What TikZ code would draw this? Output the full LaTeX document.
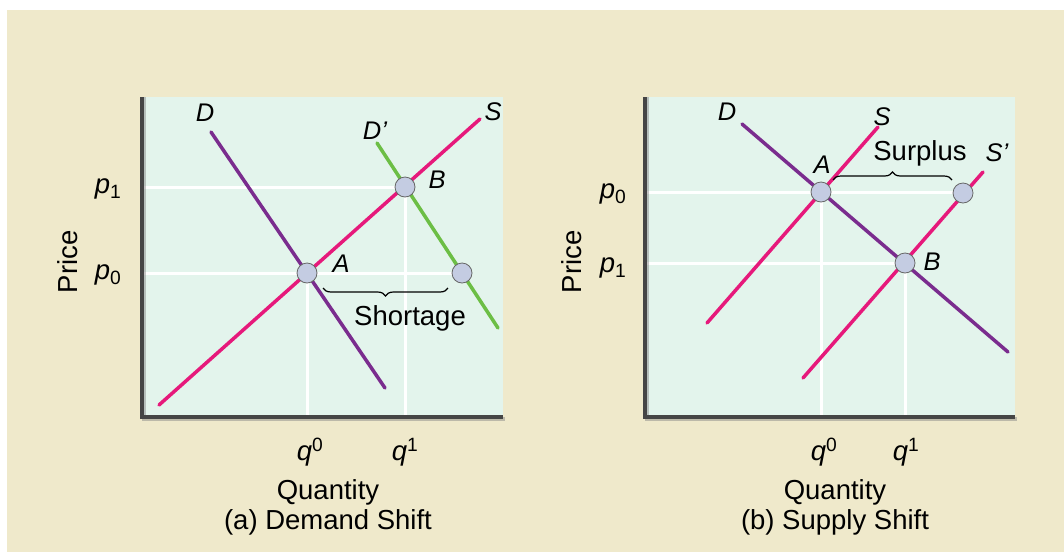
\documentclass[tikz,border=0pt]{standalone}
\usepackage{fontspec}
\setmainfont{Liberation Sans}
\usetikzlibrary{decorations.pathreplacing}
\definecolor{bgtan}{HTML}{EFE9CB}
\definecolor{plotmint}{HTML}{E3F4EC}
\definecolor{supplypink}{HTML}{E6197B}
\definecolor{demandpurple}{HTML}{7A2C8E}
\definecolor{shiftgreen}{HTML}{6CBE45}
\definecolor{dotblue}{HTML}{C4CCE2}
\definecolor{axisgray}{HTML}{454545}

\begin{document}
\begin{tikzpicture}[x=1pt, y=-1pt,
  txt/.style={font=\fontsize{27.5}{32}\selectfont, inner sep=0pt},
  curvelbl/.style={font=\fontsize{25.5}{30}\selectfont\itshape, inner sep=0pt},
  grid/.style={white, line width=3pt},
  curve/.style={line width=3.5pt, line cap=round},
  axis/.style={axisgray, line width=3.2pt},
  axshadow/.style={gray, opacity=0.45, line width=4pt},
  eqdot/.style={circle, fill=dotblue, draw=gray!80!black, line width=0.8pt, minimum size=20pt, inner sep=0pt},
  gapbrace/.style={decorate, decoration={brace, amplitude=8pt}, line width=1.2pt}]
\useasboundingbox (0,0) rectangle (1064,555);
\fill[white] (0,0) rectangle (1064,555);
\fill[bgtan] (7,10) rectangle (1064,552);

\fill[plotmint] (142,97) rectangle (503,417);
\draw[grid] (142,187) -- (405,187);
\draw[grid] (142,273) -- (462,273);
\draw[grid] (307,273) -- (307,417);
\draw[grid] (405,187) -- (405,417);
\draw[curve, demandpurple] (211,132) -- (385,388);
\draw[curve, shiftgreen] (377,143) -- (498,328);
\draw[curve, supplypink] (159,405) -- (480,119);
\draw[axshadow] (144,97) -- (144,419) -- (505,419);
\draw[axis] (142,97) -- (142,417) -- (503,417);
\node[eqdot] (aA) at (307,273) {};
\node[eqdot] (aB) at (405,187) {};
\node[eqdot] (aC) at (462,273) {};
\draw[gapbrace] (448,288) -- (323,288);
\node[txt] (shortage) at (410,318) {Shortage};
\node[curvelbl] (aD) at (205,113) {D};
\node[curvelbl] (aDp) at (375,131) {D'};
\node[curvelbl] (aS) at (493,112) {S};
\node[curvelbl] (aAl) at (341,264) {A};
\node[curvelbl] (aBl) at (437,180) {B};
\node[txt] (ap1) at (108,189) {\itshape p\textsubscript{\upshape 1}};
\node[txt] (ap0) at (108,275) {\itshape p\textsubscript{\upshape 0}};
\node[txt, rotate=90] (aprice) at (68,262) {Price};
\node[txt] (aq0) at (310,452) {\itshape q\textsuperscript{\upshape 0}};
\node[txt] (aq1) at (405,452) {\itshape q\textsuperscript{\upshape 1}};
\node[txt] (aqty) at (328,492) {Quantity};
\node[txt] (acap) at (328,522) {(a) Demand Shift};

\fill[plotmint] (645,97) rectangle (1015,417);
\draw[grid] (645,192) -- (963,192);
\draw[grid] (645,263) -- (905,263);
\draw[grid] (821,192) -- (821,417);
\draw[grid] (905,263) -- (905,417);
\draw[curve, supplypink] (707,323) -- (878,127);
\draw[curve, supplypink] (803,378) -- (983,172);
\draw[curve, demandpurple] (742,124) -- (1008,352);
\draw[axshadow] (647,97) -- (647,419) -- (1017,419);
\draw[axis] (645,97) -- (645,417) -- (1015,417);
\node[eqdot] (bA) at (821,192) {};
\node[eqdot] (bB) at (905,263) {};
\node[eqdot] (bC) at (963,193) {};
\draw[gapbrace] (833,180) -- (952,180);
\node[txt] (surplus) at (920,153) {Surplus};
\node[curvelbl] (bD) at (727,112) {D};
\node[curvelbl] (bS) at (882,117) {S};
\node[curvelbl] (bSp) at (997,153) {S'};
\node[curvelbl] (bAl) at (822,165) {A};
\node[curvelbl] (bBl) at (932,262) {B};
\node[txt] (bp0) at (613,194) {\itshape p\textsubscript{\upshape 0}};
\node[txt] (bp1) at (613,268) {\itshape p\textsubscript{\upshape 1}};
\node[txt, rotate=90] (bprice) at (572,262) {Price};
\node[txt] (bq0) at (824,452) {\itshape q\textsuperscript{\upshape 0}};
\node[txt] (bq1) at (906,452) {\itshape q\textsuperscript{\upshape 1}};
\node[txt] (bqty) at (835,492) {Quantity};
\node[txt] (bcap) at (835,522) {(b) Supply Shift};
\end{tikzpicture}
\end{document}
